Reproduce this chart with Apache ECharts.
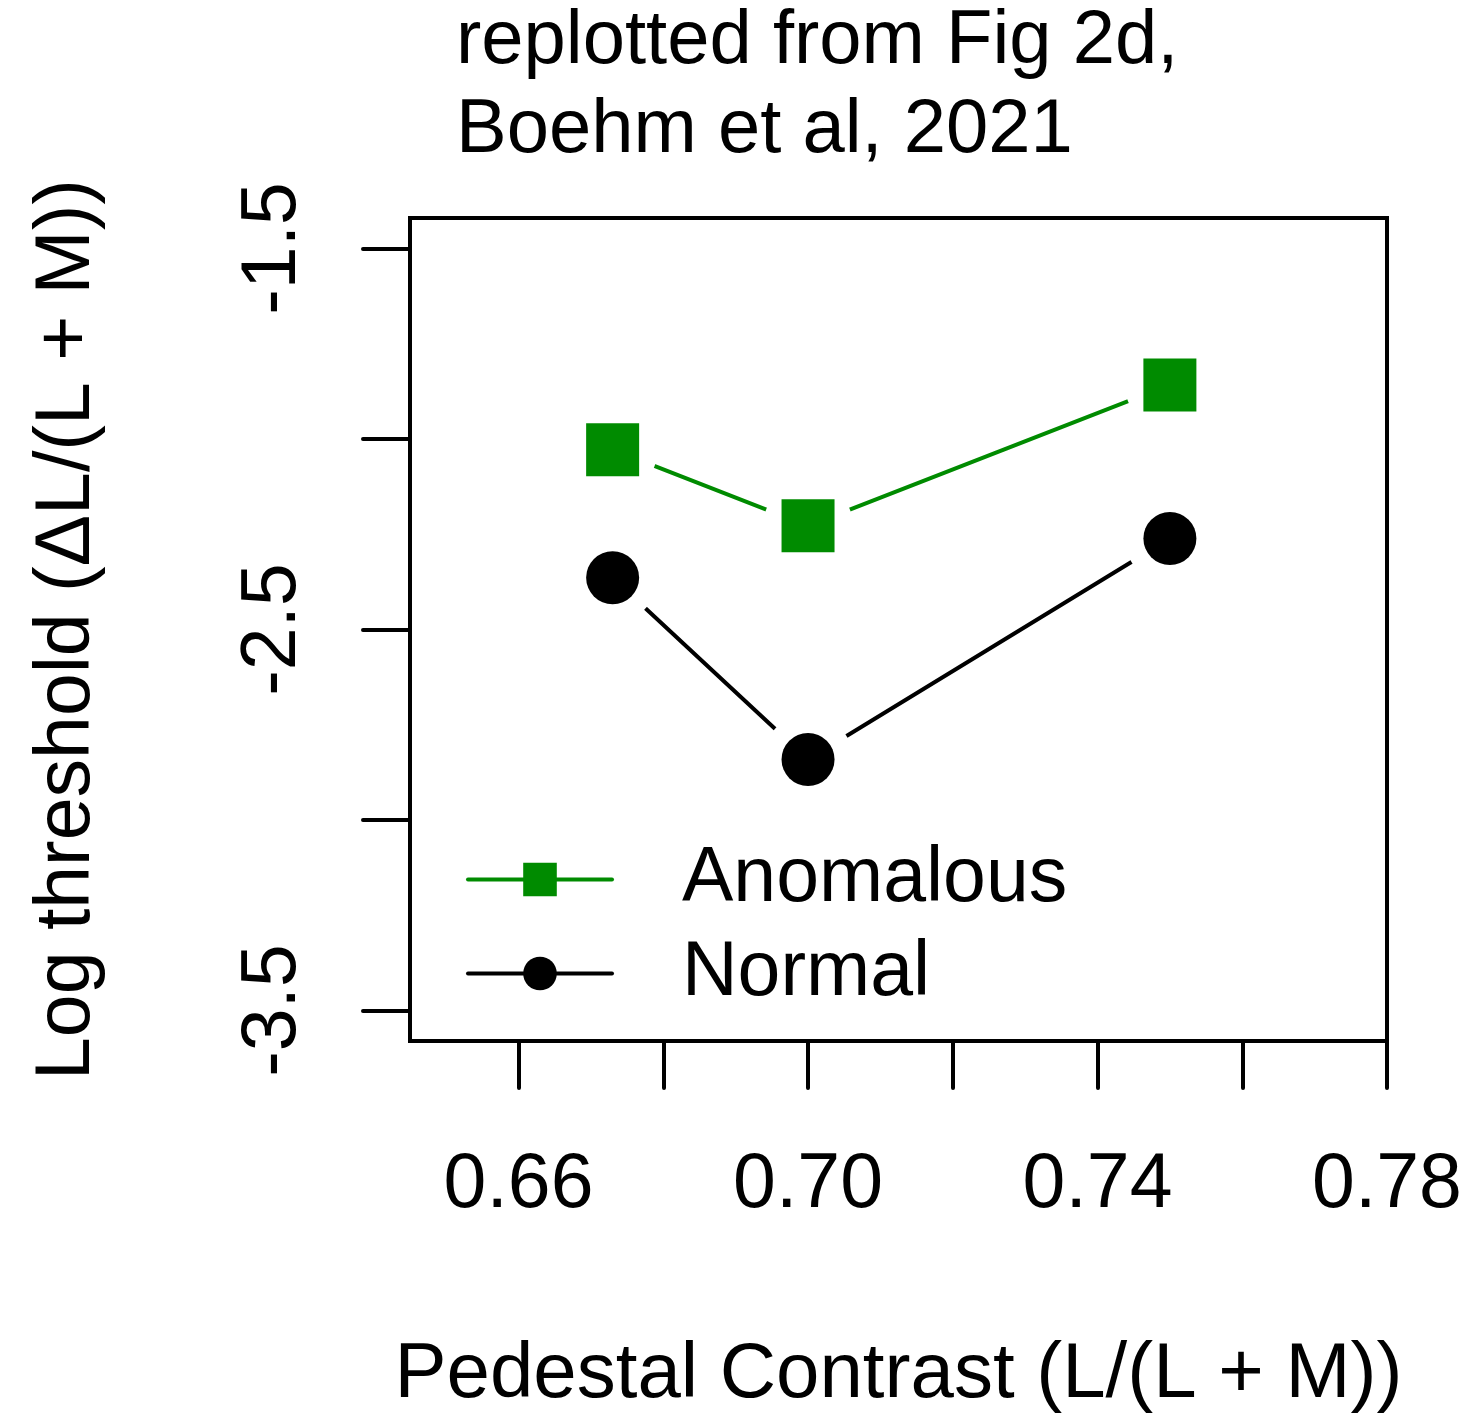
<!DOCTYPE html>
<html>
<head>
<meta charset="utf-8">
<title>Log threshold vs pedestal contrast</title>
<script src="https://cdn.jsdelivr.net/npm/echarts@6/dist/echarts.min.js"></script>
<style>
    html, body { margin: 0; padding: 0; background: #fff; }
    #chart { width: 1470px; height: 1418px; }
</style>
</head>
<body>
<div id="chart"></div>
<script>
// 数据：基座对比度 与 对数阈值
var pedestal = [0.673, 0.70, 0.75];
var anomalous = [-2.028, -2.228, -1.858];
var normal = [-2.364, -2.841, -2.261];

// 刻度
var xTicks = [0.66, 0.68, 0.70, 0.72, 0.74, 0.76, 0.78];
var xLabels = [0.66, 0.70, 0.74, 0.78];
var yTicks = [-3.5, -3.0, -2.5, -2.0, -1.5];
var yLabels = [-3.5, -2.5, -1.5];

var green = '#008B00';
var font = 'Liberation Sans, Arial, Helvetica, sans-serif';
var fs = 77;

function pairs(xs, ys) {
    var res = [];
    for (var i = 0; i < xs.length; i++) {
        res.push([xs[i], ys[i]]);
    }
    return res;
}

var myChart = echarts.init(document.getElementById('chart'), null, { renderer: 'canvas' });

var option = {
    backgroundColor: '#fff',
    animation: false,
    textStyle: { fontFamily: font, color: '#000' },
    title: {
        text: 'replotted from Fig 2d,\nBoehm et al, 2021',
        left: 456,
        top: -2,
        padding: 0,
        textStyle: {
            fontFamily: font,
            fontSize: 76,
            fontWeight: 'normal',
            lineHeight: 89,
            color: '#000'
        }
    },
    grid: {
        left: 410,
        top: 218,
        right: 83,
        bottom: 377,
        show: true,
        borderColor: '#000',
        borderWidth: 4,
        backgroundColor: 'transparent',
        outerBoundsMode: 'none'
    },
    legend: {
        data: ['Anomalous', 'Normal'],
        orient: 'vertical',
        left: 466,
        top: 841,
        padding: 0,
        itemWidth: 144,
        itemHeight: 42,
        itemGap: 17,
        selectedMode: false,
        lineStyle: { width: 4 },
        textStyle: {
            fontFamily: font,
            fontSize: fs,
            lineHeight: 77,
            color: '#000',
            padding: [0, 0, 0, 65]
        }
    },
    xAxis: {
        type: 'value',
        min: 0.645,
        max: 0.78,
        name: 'Pedestal Contrast (L/(L + M))',
        nameLocation: 'middle',
        nameGap: 296,
        nameTextStyle: { fontFamily: font, fontSize: 78, lineHeight: 77, color: '#000' },
        axisLine: { show: false },
        axisTick: {
            customValues: xTicks,
            length: 47,
            lineStyle: { color: '#000', width: 4, cap: 'round' }
        },
        axisLabel: {
            customValues: xLabels,
            margin: 106,
            fontFamily: font,
            fontSize: fs,
            lineHeight: 77,
            color: '#000',
            formatter: function(v) { return v.toFixed(2); }
        },
        splitLine: { show: false }
    },
    yAxis: {
        type: 'value',
        min: -3.58,
        max: -1.42,
        name: 'Log threshold (ΔL/(L + M))',
        nameLocation: 'middle',
        nameGap: 304,
        nameTextStyle: { fontFamily: font, fontSize: fs, lineHeight: 77, color: '#000' },
        axisLine: { show: false },
        axisTick: {
            customValues: yTicks,
            length: 47,
            lineStyle: { color: '#000', width: 4, cap: 'round' }
        },
        axisLabel: {
            customValues: yLabels,
            rotate: 90,
            margin: 98,
            fontFamily: font,
            fontSize: fs,
            lineHeight: 77,
            color: '#000',
            formatter: function(v) { return v.toFixed(1); }
        },
        splitLine: { show: false }
    },
    series: [
        // 连线（图例用）
        {
            name: 'Anomalous',
            type: 'line',
            z: 2,
            symbol: 'rect',
            showSymbol: false,
            itemStyle: { color: green },
            lineStyle: { color: green, width: 4, cap: 'round' },
            data: pairs(pedestal, anomalous)
        },
        {
            name: 'Normal',
            type: 'line',
            z: 2,
            symbol: 'circle',
            showSymbol: false,
            itemStyle: { color: '#000' },
            lineStyle: { color: '#000', width: 4, cap: 'round' },
            data: pairs(pedestal, normal)
        },
        // 点周围的白色空隙（R 的 type="b"）
        {
            name: 'gap',
            type: 'scatter',
            z: 3,
            silent: true,
            symbol: 'circle',
            symbolSize: 90,
            itemStyle: { color: '#fff', opacity: 1 },
            data: pairs(pedestal, anomalous).concat(pairs(pedestal, normal))
        },
        // 数据点
        {
            name: 'Anomalous pts',
            type: 'scatter',
            z: 4,
            symbol: 'rect',
            symbolSize: 53,
            itemStyle: { color: green, opacity: 1 },
            data: pairs(pedestal, anomalous)
        },
        {
            name: 'Normal pts',
            type: 'scatter',
            z: 4,
            symbol: 'circle',
            symbolSize: 53,
            itemStyle: { color: '#000', opacity: 1 },
            data: pairs(pedestal, normal)
        }
    ]
};

myChart.setOption(option);
</script>
</body>
</html>
